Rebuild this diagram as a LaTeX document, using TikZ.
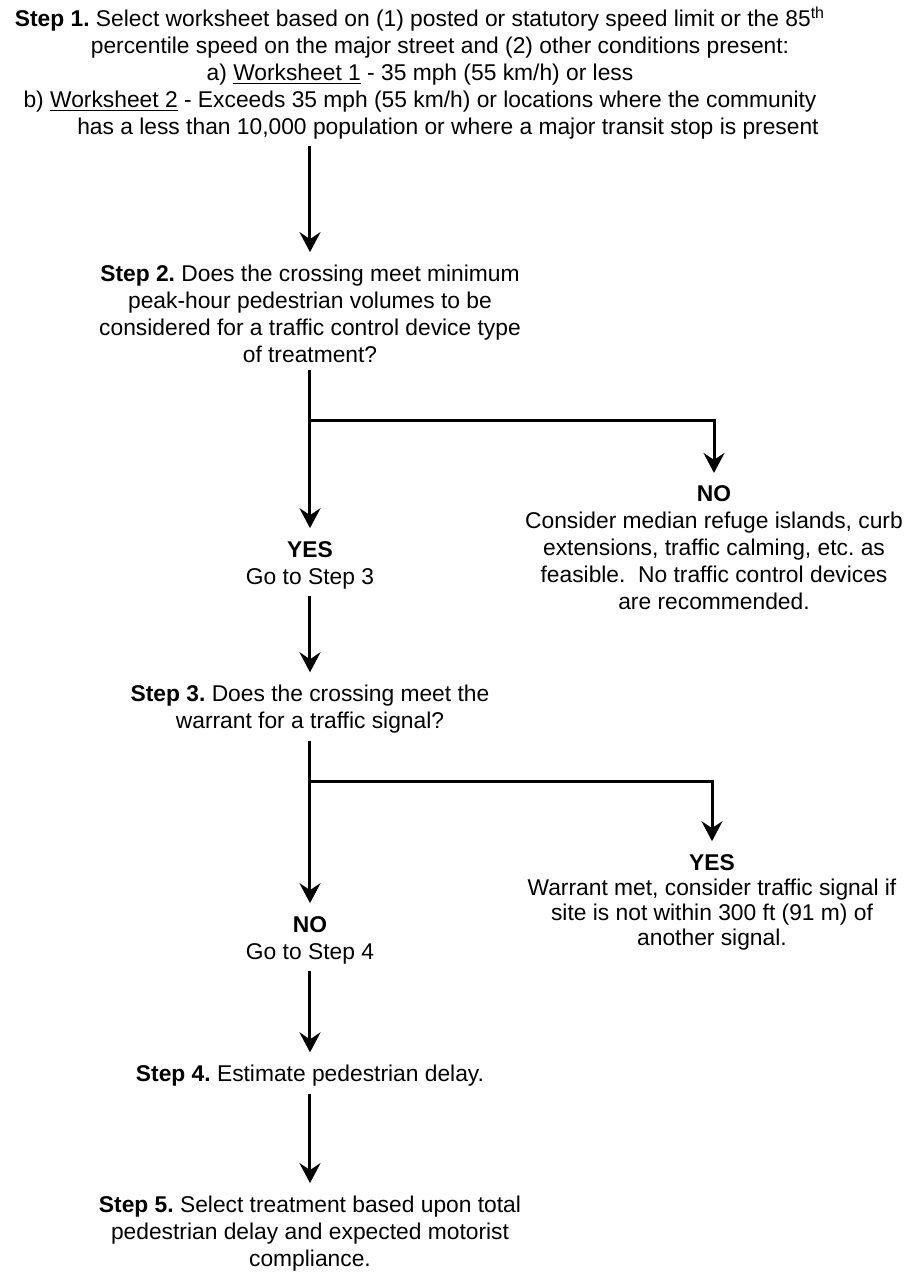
\documentclass[tikz,border=0pt]{standalone}
\usepackage{fontspec}
\setmainfont{Liberation Sans}
\usepackage{tikz}
\usetikzlibrary{arrows.meta}
\frenchspacing
\tikzset{
  textblock/.style = {align=center, inner sep=0pt, outer sep=3.5pt, font=\fontsize{11.4}{13.5}\selectfont},
  tightblock/.style = {textblock, font=\fontsize{11.4}{12.5}\selectfont},
  split/.style     = {coordinate}
}

\begin{document}
\begin{tikzpicture}[auto, node distance=2cm, line width=1.5pt,
  >={Stealth[length=10pt, width=10.5pt, inset=3.5pt]}, shorten >=3pt]

\useasboundingbox (-210pt,36.5pt) rectangle (243.5pt,-600pt);

% Step 1
\draw node [textblock, name=step1] {\textbf{Step 1.} Select worksheet based on (1) posted or statutory speed limit or the 85\textsuperscript{th}\\
  \hspace*{20pt}percentile speed on the major street and (2) other conditions present:\\
  a) \underline{Worksheet 1} - 35 mph (55 km/h) or less\\
  b) \underline{Worksheet 2} - Exceeds 35 mph (55 km/h) or locations where the community\\
  \hspace*{28pt}has a less than 10,000 population or where a major transit stop is present};

% Step 2 and its answers
\draw node [textblock, name=step2, below of=step1, node distance=120.5pt, xshift=-55pt] {\textbf{Step 2.} Does the crossing meet minimum\\
  peak-hour pedestrian volumes to be\\
  considered for a traffic control device type\\
  of treatment?};
\draw node [split, name=fork1, below of=step2, node distance=53pt] {};
\draw node [textblock, name=yes1, below of=step2, node distance=125.5pt] {\textbf{YES}\\ Go to Step 3};
\draw node [textblock, name=no1, right of=yes1, node distance=202pt, yshift=8.5pt] {\textbf{NO}\\
  Consider median refuge islands, curb\\
  extensions, traffic calming, etc. as\\
  feasible.~ No traffic control devices\\
  are recommended.};

% Step 3 and its answers
\draw node [textblock, name=step3, below of=yes1, node distance=72.2pt] {\textbf{Step 3.} Does the crossing meet the\\
  warrant for a traffic signal?};
\draw node [split, name=fork2, below of=step3, node distance=35.8pt] {};
\draw node [textblock, name=no2, below of=step3, node distance=115.3pt] {\textbf{NO}\\ Go to Step 4};
\draw node [tightblock, name=yes2, right of=no2, node distance=201pt, yshift=19pt] {\textbf{YES}\\
  Warrant met, consider traffic signal if\\
  site is not within 300 ft (91 m) of\\
  another signal.};

% Steps 4 and 5
\draw node [textblock, name=step4, below of=no2, node distance=68pt] {\textbf{Step 4.} Estimate pedestrian delay.};
\draw node [textblock, name=step5, below of=step4, node distance=78.85pt] {\textbf{Step 5.} Select treatment based upon total\\
  pedestrian delay and expected motorist\\
  compliance.};

% Connections
\draw[->] (step1.south -| step2) -- (step2);
\draw[->] (step2) -- (yes1);
\draw[->] (fork1) -| (no1);
\draw[->] (yes1) -- (step3);
\draw[->] (step3) -- (no2);
\draw[->] (fork2) -| (yes2);
\draw[->] (no2) -- (step4);
\draw[->] (step4) -- (step5);

\end{tikzpicture}
\end{document}
